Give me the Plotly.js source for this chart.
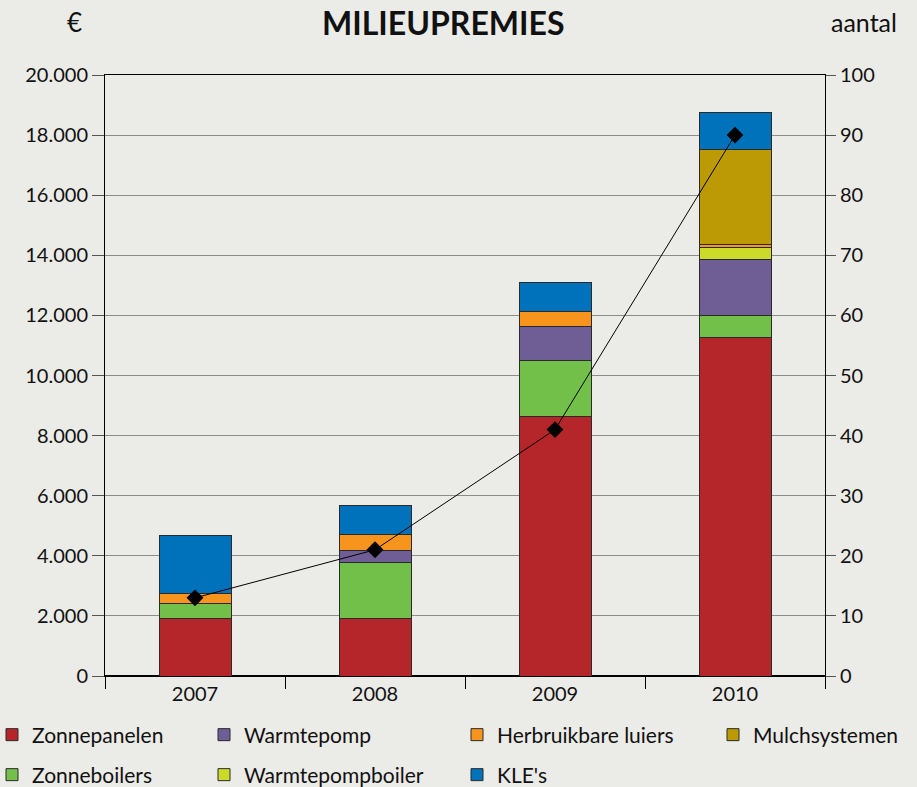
<!DOCTYPE html>
<html>
<head>
<meta charset="utf-8">
<script src="https://cdn.plot.ly/plotly-3.0.1.min.js"></script>
<style>html,body{margin:0;padding:0;background:#ebebe7;}</style>
</head>
<body>
<div id="chart" style="width:917px;height:787px;"></div>
<script>
const years = ["2007", "2008", "2009", "2010"];
const zonnepanelen = [1920, 1920, 8650, 11270];
const zonneboilers = [490, 1860, 1860, 730];
const warmtepomp = [0, 380, 1120, 1860];
const warmtepompboiler = [0, 0, 0, 390];
const herbruikbareLuiers = [320, 550, 490, 110];
const mulchsystemen = [0, 0, 0, 3160];
const kles = [1950, 980, 980, 1220];
const aantal = [13, 21, 41, 90];

const FONT = "Lato, 'Open Sans', sans-serif";
const outline = {color: "#2a2a2a", width: 1};

function bar(name, vals, color, legend) {
  return {
    type: "bar", name: name, x: years, y: vals,
    marker: {color: color, line: outline},
    legend: legend, hoverinfo: "y+name"
  };
}

const data = [
  bar("Zonnepanelen", zonnepanelen, "#b5262b", "legend"),
  bar("Zonneboilers", zonneboilers, "#72bf4a", "legend5"),
  bar("Warmtepomp", warmtepomp, "#6f5e96", "legend2"),
  bar("Warmtepompboiler", warmtepompboiler, "#ccdb2a", "legend6"),
  bar("Herbruikbare luiers", herbruikbareLuiers, "#f7941d", "legend3"),
  bar("Mulchsystemen", mulchsystemen, "#bc9a06", "legend4"),
  bar("KLE's", kles, "#0072bc", "legend7"),
  {
    type: "scatter", mode: "lines+markers", name: "aantal",
    x: years, y: aantal, yaxis: "y2", showlegend: false,
    line: {color: "#000", width: 1},
    marker: {symbol: "diamond", size: 13, color: "#000"}
  }
];

const ROW1 = 1 - 735 / 787, ROW2 = 1 - 775 / 787;
function leg(xpx, y) {
  return {
    font: {family: FONT, size: 21, color: "#111"},
    bgcolor: "rgba(0,0,0,0)", orientation: "v",
    xref: "paper", yref: "container",
    xanchor: "left", yanchor: "middle",
    x: (xpx - 105) / 720, y: y
  };
}

const layout = {
  width: 917, height: 787,
  paper_bgcolor: "#ebebe7", plot_bgcolor: "#ebebe7",
  margin: {l: 105, r: 92, t: 75, b: 111, autoexpand: false},
  barmode: "stack", bargap: 0.6,
  separators: ",.",
  font: {family: FONT, size: 20, color: "#111"},
  showlegend: true,
  xaxis: {
    type: "category", range: [-0.5, 3.5], automargin: false,
    showline: true, linecolor: "#000", linewidth: 1, mirror: true,
    ticks: "outside", tickson: "boundaries", ticklen: 12, tickcolor: "#000",
    showgrid: false, tickangle: 0, tickfont: {family: FONT, size: 20, color: "#111"}
  },
  yaxis: {
    range: [0, 20000], dtick: 2000, tickformat: ",d", automargin: false,
    showline: true, linecolor: "#000", linewidth: 1,
    ticks: "outside", ticklen: 12, tickcolor: "#555",
    showgrid: true, gridcolor: "#8c8c8c", gridwidth: 1,
    zeroline: true, zerolinecolor: "#000", zerolinewidth: 1.5,
    tickfont: {family: FONT, size: 20, color: "#111"}
  },
  yaxis2: {
    overlaying: "y", side: "right", range: [0, 100], dtick: 10, automargin: false,
    showline: true, linecolor: "#000", linewidth: 1,
    ticks: "outside", ticklen: 10, tickcolor: "#555",
    showgrid: false, zeroline: false,
    tickfont: {family: FONT, size: 20, color: "#111"}
  },
  legend: leg(-8, ROW1),
  legend5: leg(-8, ROW2),
  legend2: leg(204, ROW1),
  legend6: leg(204, ROW2),
  legend3: leg(457, ROW1),
  legend7: leg(457, ROW2),
  legend4: leg(713, ROW1),
  annotations: [
    {text: "<b>MILIEUPREMIES</b>", xref: "paper", yref: "paper", x: 0.469, y: 1.088,
     xanchor: "center", yanchor: "middle", showarrow: false,
     font: {family: FONT, size: 32, color: "#111"}},
    {text: "€", xref: "paper", yref: "paper", x: -0.0417, y: 1.088,
     xanchor: "center", yanchor: "middle", showarrow: false,
     font: {family: FONT, size: 26, color: "#111"}},
    {text: "aantal", xref: "paper", yref: "paper", x: 1.1028, y: 1.088,
     xanchor: "right", yanchor: "middle", showarrow: false,
     font: {family: FONT, size: 25, color: "#111"}}
  ]
};

Plotly.newPlot("chart", data, layout, {displayModeBar: false, staticPlot: true});
</script>
</body>
</html>
